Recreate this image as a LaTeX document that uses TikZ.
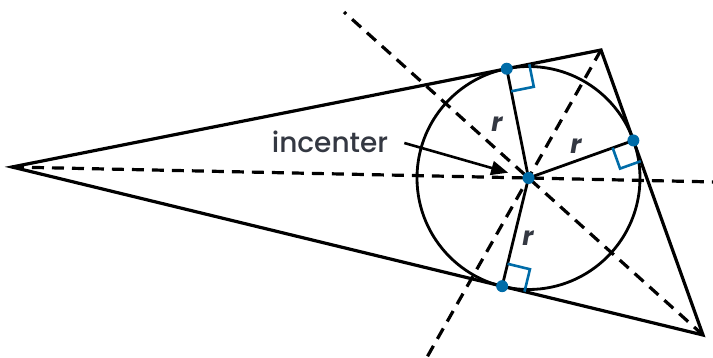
\documentclass[tikz,border=0pt]{standalone}
\usepackage{fontspec}
\setmainfont{Poppins}
\newfontfamily\labelfont{Poppins Medium}
\usetikzlibrary{calc,arrows.meta}
\definecolor{dotblue}{RGB}{0,108,168}
\definecolor{labelgray}{RGB}{52,56,66}
\tikzset{
    side/.style={line width=3.2pt, line join=miter},
    bisector/.style={line width=3.2pt, dash pattern=on 12pt off 8pt},
    radius/.style={line width=2.8pt},
    rightmark/.style={draw=dotblue, line width=2.6pt},
    tdot/.style={circle, fill=dotblue, inner sep=0pt, minimum size=12pt},
    rlabel/.style={text=labelgray, font=\fontsize{26}{30}\selectfont\bfseries\itshape},
    pointer/.style={line width=2.6pt, -{Triangle[length=17pt,width=14pt]}}
}
\begin{document}
\begin{tikzpicture}[x=1pt, y=-1pt]
    \useasboundingbox (0,0) rectangle (713,358);

    % Triangle corners and incenter
    \coordinate (A) at (12,167);
    \coordinate (B) at (601,50);
    \coordinate (C) at (703,335);
    \coordinate (I) at (528.5,178);

    % Points of contact
    \coordinate (T1) at ($(A)!(I)!(B)$);
    \coordinate (T2) at ($(B)!(I)!(C)$);
    \coordinate (T3) at ($(A)!(I)!(C)$);

    % Angle bisectors
    \draw[bisector] (A) -- ($(A)!1.3585!(I)$);
    \draw[bisector] (B) -- ($(B)!2.406!(I)$);
    \draw[bisector] (C) -- ($(C)!2.057!(I)$);

    % Triangle
    \draw[side] (A) -- (B) -- (C) -- cycle;

    % Incircle
    \draw[line width=2.8pt] (I) circle (111.5);

    % Radii
    \draw[radius] (I) -- (T1);
    \draw[radius] (I) -- (T2);
    \draw[radius] (I) -- (T3);

    % Right angle marks
    \coordinate (T1b) at ($(T1)!23pt!(B)$);
    \coordinate (T1i) at ($(T1)!23pt!(I)$);
    \draw[rightmark] (T1b) -- ($(T1b)+(T1i)-(T1)$) -- (T1i);
    \coordinate (T2c) at ($(T2)!22pt!(C)$);
    \coordinate (T2i) at ($(T2)!22pt!(I)$);
    \draw[rightmark] (T2c) -- ($(T2c)+(T2i)-(T2)$) -- (T2i);
    \coordinate (T3c) at ($(T3)!23pt!(C)$);
    \coordinate (T3i) at ($(T3)!23pt!(I)$);
    \draw[rightmark] (T3c) -- ($(T3c)+(T3i)-(T3)$) -- (T3i);

    % Dots
    \node[tdot] (dI) at (I) {};
    \node[tdot] (d1) at (T1) {};
    \node[tdot] (d2) at (T2) {};
    \node[tdot] (d3) at (T3) {};

    % Labels
    \node[rlabel] (r1) at (497,124) {r};
    \node[rlabel] (r2) at (576,146) {r};
    \node[rlabel] (r3) at (528,238) {r};
    \node[text=labelgray, font=\labelfont\fontsize{28}{32}\selectfont, inner sep=2pt] (lbl) at (330,142) {incenter};
    \draw[pointer] ([xshift=14pt,yshift=-1pt]lbl.east) -- ($(I)!21pt!(lbl.east)$);
\end{tikzpicture}
\end{document}
